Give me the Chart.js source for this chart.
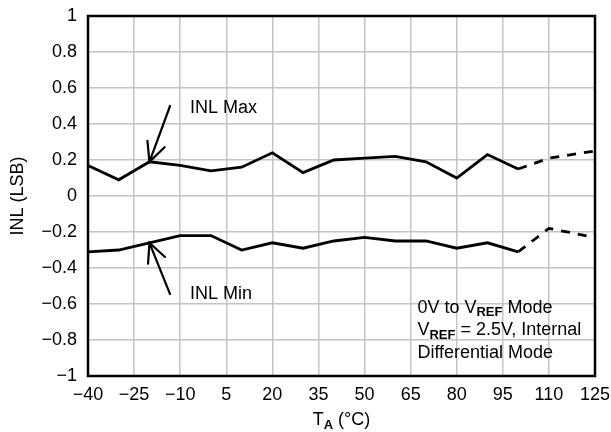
<!DOCTYPE html>
<html>
<head>
<meta charset="utf-8">
<script src="https://cdn.jsdelivr.net/npm/chart.js@4.4.1/dist/chart.umd.min.js"></script>
<style>
  html, body { margin: 0; padding: 0; background: #fff; }
  #wrap { width: 611px; height: 432px; }
</style>
</head>
<body>
<div id="wrap"><canvas id="inlChart" width="611" height="432"></canvas></div>
<script>
// temperatures (°C) and INL (LSB)
const temps  = [-40, -30, -20, -10, 0, 10, 20, 30, 40, 50, 60, 70, 80, 90, 100, 110, 125];
const inlMax = [0.17, 0.09, 0.19, 0.17, 0.14, 0.16, 0.24, 0.13, 0.20, 0.21, 0.22, 0.19, 0.10, 0.23, 0.15, 0.21, 0.25];
const inlMin = [-0.31, -0.30, -0.26, -0.22, -0.22, -0.30, -0.26, -0.29, -0.25, -0.23, -0.25, -0.25, -0.29, -0.26, -0.31, -0.18, -0.23];
const measuredUpTo = 100; // past this the curves are dashed

const xTicks = [-40, -25, -10, 5, 20, 35, 50, 65, 80, 95, 110, 125];
const yTicks = [-1, -0.8, -0.6, -0.4, -0.2, 0, 0.2, 0.4, 0.6, 0.8, 1];

const FONT = '"Liberation Sans", Arial, sans-serif';
const minus = s => String(s).replace('-', '\u2212');

function toPoints(ys) {
  return temps.map((t, i) => ({ x: t, y: ys[i] }));
}

const dashPast = {
  borderDash: c => (c.p0.parsed.x >= measuredUpTo ? [9, 8] : undefined)
};

// text with bold subscript runs, left aligned at x, centred on y
function drawRuns(ctx, x, y, runs) {
  let cx = x;
  runs.forEach(r => {
    if (r.sub) {
      ctx.font = 'bold 13px ' + FONT;
      ctx.fillText(r.t, cx, y + 5);
    } else {
      ctx.font = '18px ' + FONT;
      ctx.fillText(r.t, cx, y);
    }
    cx += ctx.measureText(r.t).width;
  });
  return cx - x;
}

function arrow(ctx, x0, y0, x1, y1) {
  ctx.beginPath();
  ctx.moveTo(x0, y0);
  ctx.lineTo(x1, y1);
  const a = Math.atan2(y1 - y0, x1 - x0);
  const len = 21, spread = 0.45;
  ctx.moveTo(x1 - len * Math.cos(a - spread), y1 - len * Math.sin(a - spread));
  ctx.lineTo(x1, y1);
  ctx.lineTo(x1 - len * Math.cos(a + spread), y1 - len * Math.sin(a + spread));
  ctx.stroke();
}

const extras = {
  id: 'extras',
  afterDraw(chart) {
    const { ctx, chartArea: ca, scales: { x, y } } = chart;
    ctx.save();
    // frame
    ctx.strokeStyle = '#000';
    ctx.lineWidth = 2.5;
    ctx.strokeRect(ca.left, ca.top, ca.right - ca.left, ca.bottom - ca.top);

    // arrows to the curves
    ctx.lineWidth = 2.2;
    ctx.lineCap = 'round';
    arrow(ctx, x.getPixelForValue(-13.3), y.getPixelForValue(0.5),
               x.getPixelForValue(temps[2]), y.getPixelForValue(inlMax[2]));
    arrow(ctx, x.getPixelForValue(-13.3), y.getPixelForValue(-0.545),
               x.getPixelForValue(temps[2]), y.getPixelForValue(inlMin[2]));

    ctx.fillStyle = '#000';
    ctx.textBaseline = 'middle';
    ctx.textAlign = 'left';
    ctx.font = '18px ' + FONT;
    ctx.fillText('INL Max', x.getPixelForValue(-6.8), y.getPixelForValue(0.49));
    ctx.fillText('INL Min', x.getPixelForValue(-6.8), y.getPixelForValue(-0.545));

    // conditions note
    const nx = x.getPixelForValue(67.2);
    drawRuns(ctx, nx, y.getPixelForValue(-0.62), [{ t: '0V to V' }, { t: 'REF', sub: true }, { t: ' Mode' }]);
    drawRuns(ctx, nx, y.getPixelForValue(-0.745), [{ t: 'V' }, { t: 'REF', sub: true }, { t: ' = 2.5V, Internal' }]);
    drawRuns(ctx, nx, y.getPixelForValue(-0.87), [{ t: 'Differential Mode' }]);

    // x axis title
    const xt = [{ t: 'T' }, { t: 'A', sub: true }, { t: ' (\u00B0C)' }];
    ctx.globalAlpha = 0;
    const w = drawRuns(ctx, 0, 0, xt);
    ctx.globalAlpha = 1;
    drawRuns(ctx, (ca.left + ca.right) / 2 - w / 2, 420, xt);

    // y axis title
    ctx.translate(18, (ca.top + ca.bottom) / 2);
    ctx.rotate(-Math.PI / 2);
    ctx.textAlign = 'center';
    ctx.font = '18px ' + FONT;
    ctx.fillText('INL (LSB)', 0, 0);
    ctx.restore();
  }
};

new Chart(document.getElementById('inlChart'), {
  type: 'line',
  data: {
    datasets: [
      { label: 'INL Max', data: toPoints(inlMax), segment: dashPast },
      { label: 'INL Min', data: toPoints(inlMin), segment: dashPast }
    ]
  },
  options: {
    responsive: false,
    animation: false,
    layout: { padding: { top: 16, right: 16, left: 0, bottom: 0 } },
    elements: {
      line: { borderColor: '#000', borderWidth: 2.8, tension: 0, fill: false },
      point: { radius: 0, hoverRadius: 0 }
    },
    plugins: { legend: { display: false }, tooltip: { enabled: false } },
    scales: {
      x: {
        type: 'linear',
        min: -40, max: 125,
        afterBuildTicks: s => { s.ticks = xTicks.map(v => ({ value: v })); },
        afterFit: s => { s.height = 56; s.paddingLeft = 0; s.paddingRight = 0; },
        grid: { color: '#c4c4c4', lineWidth: 1.5, drawTicks: false },
        border: { display: false },
        ticks: {
          color: '#000', padding: 8, maxRotation: 0,
          font: { family: FONT, size: 18 },
          callback: v => minus(v)
        }
      },
      y: {
        min: -1, max: 1,
        afterBuildTicks: s => { s.ticks = yTicks.map(v => ({ value: v })); },
        afterFit: s => { s.width = 88; s.paddingTop = 0; s.paddingBottom = 0; },
        grid: { color: '#c4c4c4', lineWidth: 1.5, drawTicks: false },
        border: { display: false },
        ticks: {
          color: '#000', padding: 11,
          font: { family: FONT, size: 18 },
          callback: v => minus(Number.isInteger(v) ? v : v.toFixed(1))
        }
      }
    }
  },
  plugins: [extras]
});
</script>
</body>
</html>
